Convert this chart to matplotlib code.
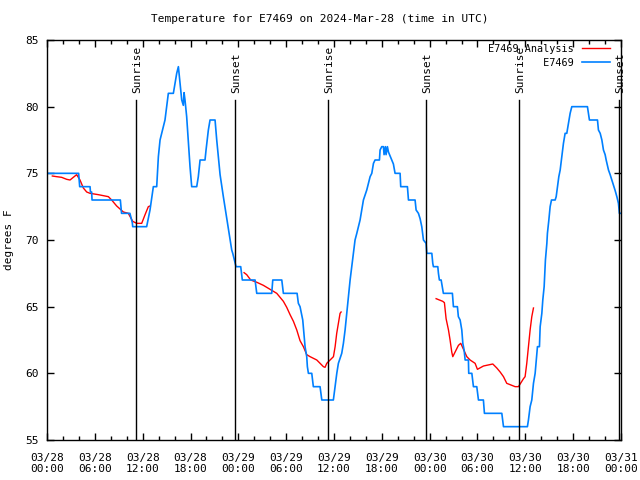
import matplotlib
matplotlib.use("Agg")
import matplotlib.pyplot as plt
import numpy as np
from matplotlib.ticker import MultipleLocator, FixedLocator

plt.rcParams['font.family'] = ['DejaVu Sans Mono']

# ---- data (hours since 2024-03-28 00:00 UTC, degrees F) ----
obs_hours = [0, 3.97, 4.1, 5.4, 5.45, 5.6, 5.65, 9.2, 9.35, 10.4, 10.7, 10.75, 12.5,
             12.92, 13.34, 13.76, 13.97, 14.18, 14.8, 15.22, 15.85, 16.06, 16.27, 16.48,
             16.69, 16.9, 17.1, 17.19, 17.31, 17.52, 17.94, 18.15, 18.78, 18.98, 19.2,
             19.82, 19.95, 20.24, 20.45, 21.08, 21.29, 21.71, 22.12, 22.55, 22.96, 23.17,
             23.3, 23.71, 24.3, 24.5, 26.1, 26.31, 28.19, 28.32, 29.45, 29.65, 31.37,
             31.53, 31.74, 32.08, 32.37, 32.58, 32.66, 32.79, 33.21, 33.41, 34.25, 34.47,
             35.92, 36.14, 36.35, 36.55, 36.97, 37.18, 37.39, 37.6, 37.81, 38.02, 38.23,
             38.43, 38.64, 38.86, 39.27, 39.48, 39.69, 40.11, 40.32, 40.53, 40.74, 40.95,
             41.15, 41.7, 41.78, 41.99, 42.2, 42.28, 42.45, 42.53, 42.7, 42.83, 43.25,
             43.45, 43.66, 44.29, 44.37, 45.21, 45.34, 46.17, 46.3, 46.59, 46.8, 47.01,
             47.22, 47.55, 47.64, 48.27, 48.39, 48.47, 49.02, 49.1, 49.22, 49.44, 49.72,
             50.85, 50.98, 51.48, 51.6, 51.82, 52.03, 52.16, 52.32, 52.45, 52.86, 52.9,
             53.29, 53.49, 53.91, 54.12, 54.74, 54.87, 57.05, 57.26, 60.26, 60.39, 60.6,
             60.81, 61.02, 61.23, 61.44, 61.52, 61.77, 61.86, 62.07, 62.19, 62.36, 62.52,
             62.7, 62.77, 62.95, 63.11, 63.28, 63.74, 63.87, 64.03, 64.2, 64.37, 64.58,
             64.78, 64.99, 65.2, 65.41, 65.62, 65.83, 67.79, 67.92, 68.04, 69.05, 69.17,
             69.39, 69.6, 69.8, 70.01, 70.14, 70.43, 70.64, 70.85, 71.05, 71.27, 71.48,
             71.68, 71.8, 72.0]
obs_temps = [75, 75, 74, 74, 73.6, 73.6, 73, 73, 72, 72, 71.3, 71, 71,
             72.25, 74, 74, 76.25, 77.5, 79, 81, 81, 81.75, 82.5, 83,
             81.75, 80.5, 80.1, 81.05, 80.5, 79.25, 75.5, 74, 74, 74.75, 76,
             76, 76.75, 78.25, 79, 79, 77.5, 74.9, 73.25, 71.6, 70, 69.25,
             69, 68, 68, 67, 67, 66, 66, 67, 67, 66, 66,
             65.25, 65, 64, 62, 61.25, 60.5, 60, 60, 59, 59, 58,
             58, 59, 60, 60.75, 61.5, 62.25, 63.25, 64.5, 65.75, 67, 68,
             69, 70, 70.5, 71.5, 72.25, 73, 73.75, 74.25, 74.75, 75, 75.75,
             76, 76, 76.75, 77, 77, 76.4, 77, 76.4, 77, 76.6, 76,
             75.7, 75, 75, 74, 74, 73, 73, 72.25, 72, 71.6, 71,
             70, 69.75, 69, 69, 68.25, 68, 68, 67.5, 67, 67, 66,
             66, 65, 65, 64.25, 64, 63.25, 62.25, 61.75, 61, 61, 60,
             60, 59, 59, 58, 58, 57, 57, 56, 56, 56.5, 57.5,
             58, 59.25, 60, 61.5, 62, 62, 63.5, 64.5, 65.5, 66.5, 68.5,
             69.75, 70.5, 71.5, 72.5, 73, 73, 73.25, 74, 74.75, 75.25, 76.25,
             77.25, 78, 78, 78.75, 79.5, 80, 80, 79.5, 79, 79, 78.25,
             78, 77.5, 76.75, 76.4, 76, 75.25, 74.9, 74.5, 74.1, 73.7, 73.25,
             72.75, 72.0, 72.0]

ana1_hours = [0.67, 1.21, 1.84, 2.47, 2.89, 3.30, 3.72, 4.14, 4.56, 4.98, 5.40, 6.44,
              7.70, 8.11, 8.74, 9.58, 10.20, 10.75, 11.25, 11.88, 12.30, 12.71, 12.92]
ana1_temps = [74.8, 74.75, 74.7, 74.55, 74.5, 74.7, 74.9, 74.5, 73.9, 73.6, 73.5, 73.4,
              73.25, 73.0, 72.55, 72.1, 72.0, 71.4, 71.25, 71.25, 71.9, 72.5, 72.55]
ana2_hours = [24.72, 25.05, 25.55, 26.31, 27.14, 27.98, 28.82, 29.65, 30.07, 30.49, 30.91,
              31.33, 31.74, 32.16, 32.58, 33.0, 33.84, 34.67, 34.88, 35.09, 35.93, 36.14,
              36.34, 36.55, 36.76, 36.89]
ana2_temps = [67.55, 67.4, 67.0, 66.83, 66.6, 66.3, 66.0, 65.4, 64.95, 64.4, 63.9,
              63.25, 62.45, 62.0, 61.4, 61.25, 61.0, 60.5, 60.45, 60.75, 61.25, 62.0,
              63.0, 63.75, 64.5, 64.6]
ana3_hours = [48.81, 49.64, 49.85, 50.06, 50.36, 50.56, 50.77, 50.90, 51.61, 51.90, 52.66,
              53.07, 53.70, 53.99, 54.75, 55.92, 56.42, 56.84, 57.26, 57.67, 58.72, 59.14,
              59.77, 59.97, 60.18, 60.39, 60.60, 60.81, 61.02]
ana3_temps = [65.6, 65.4, 65.3, 64.1, 63.25, 62.5, 61.6, 61.25, 62.1, 62.25, 61.25,
              61.0, 60.75, 60.3, 60.55, 60.7, 60.4, 60.1, 59.75, 59.25, 59.0, 59.0,
              59.6, 59.75, 60.75, 62.0, 63.25, 64.25, 64.9]

sun_hours = [11.17, 23.59, 35.3, 47.55, 59.22, 71.7]
sun_labels = ["Sunrise", "Sunset", "Sunrise", "Sunset", "Sunrise", "Sunset"]

tick_hours = list(range(0, 73, 6))
tick_labels = ["03/28\n00:00", "03/28\n06:00", "03/28\n12:00", "03/28\n18:00",
               "03/29\n00:00", "03/29\n06:00", "03/29\n12:00", "03/29\n18:00",
               "03/30\n00:00", "03/30\n06:00", "03/30\n12:00", "03/30\n18:00",
               "03/31\n00:00"]

title = "Temperature for E7469 on 2024-Mar-28 (time in UTC)"

# ---- figure ----
fig = plt.figure(figsize=(6.4, 4.8), dpi=100)
ax = fig.add_axes([47/640, 40/480, 574/640, 400/480])

red = "#ff0000"
blue = "#0080ff"
ax.plot(ana1_hours, ana1_temps, color=red, lw=1, label="E7469 Analysis")
ax.plot(ana2_hours, ana2_temps, color=red, lw=1)
ax.plot(ana3_hours, ana3_temps, color=red, lw=1)
ax.plot(obs_hours, obs_temps, color=blue, lw=1.2, label="         E7469")

for h, lab in zip(sun_hours, sun_labels):
    ax.plot([h, h], [55, 80.5], color="black", lw=1)
    ax.text(h + 0.15, 81.0, lab, rotation=90, ha="center", va="bottom", fontsize=8)

ax.set_xlim(0, 72)
ax.set_ylim(55, 85)
ax.xaxis.set_major_locator(FixedLocator(tick_hours))
ax.set_xticklabels(tick_labels, fontsize=8)
ax.xaxis.set_minor_locator(MultipleLocator(2))
ax.yaxis.set_major_locator(MultipleLocator(5))
ax.tick_params(axis="both", which="major", direction="in", length=5, width=1,
               top=True, right=True, labelsize=8)
ax.tick_params(axis="x", which="major", pad=9)
ax.tick_params(axis="y", which="major", pad=6)
ax.tick_params(axis="x", which="minor", direction="in", length=3, width=1,
               top=True, bottom=True)
for s in ax.spines.values():
    s.set_linewidth(1)
ax.set_ylabel("degrees F", fontsize=8, labelpad=8)
fig.text(320/640, 1 - 19/480, title, ha="center", va="center", fontsize=8)

leg = ax.legend(loc="upper right", bbox_to_anchor=(610/640, 1 - 44/480),
                bbox_transform=fig.transFigure, frameon=False, markerfirst=False,
                fontsize=7.3, handlelength=2.8, handletextpad=0.8, labelspacing=0.35,
                borderpad=0, borderaxespad=0)

fig.savefig("out.png", dpi=100)
